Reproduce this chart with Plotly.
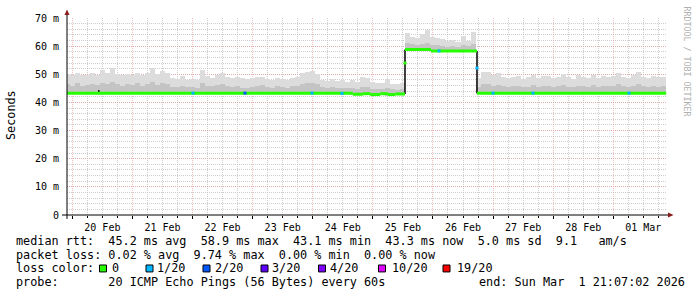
import plotly.graph_objects as go
import pandas as pd
import numpy as np

# ---------------- data ----------------
bin_start = "2026-02-19 21:00"   # smoke bins, 2 h each
smoke_max = [
    50.2, 49.8, 50.5, 49.6, 49.9, 50.3, 49.7, 51.4, 50.6, 52.3, 50.1, 49.8,
    50.2, 49.9, 50.6, 49.7, 50.3, 52.2, 50.0, 51.1, 50.4, 48.7, 48.2, 49.4,
    48.0, 48.4, 47.9, 51.4, 49.3, 48.8, 49.6, 50.3, 49.1, 48.6, 49.2, 48.7,
    48.3, 48.6, 48.9, 49.2, 48.4, 48.0, 48.7, 48.5, 47.9, 48.8, 49.0, 50.6,
    50.9, 51.0, 50.2, 48.0, 47.7, 48.2, 47.6, 47.9, 47.4, 47.8, 47.3, 49.1,
    48.8, 47.2, 46.9, 47.0, 48.5, 46.6, 46.4, 46.8, 64.8, 63.4, 63.0, 64.2,
    65.6, 63.2, 62.8, 62.4, 61.8, 62.1, 61.6, 63.6, 62.0, 64.9, 48.6, 50.9,
    50.8, 49.6, 50.3, 49.2, 48.7, 49.0, 49.5, 48.4, 48.9, 49.8, 48.6, 49.3,
    49.4, 48.8, 49.0, 50.2, 48.9, 48.5, 49.6, 49.1, 48.7, 49.9, 48.8, 49.3,
    48.9, 49.4, 50.6, 49.0, 48.6, 49.8, 50.9, 49.2, 48.7, 49.5, 48.9, 49.2,
]
smoke_mid = [
    46.5, 46.0, 46.8, 45.9, 46.3, 46.6, 46.1, 47.0, 46.7, 47.2, 46.4, 46.0,
    46.4, 46.1, 46.9, 45.8, 46.5, 47.3, 46.2, 46.8, 46.5, 45.6, 45.4, 45.9,
    45.4, 45.6, 45.3, 46.8, 46.0, 45.7, 46.2, 46.5, 45.9, 45.6, 45.8, 45.2,
    45.3, 45.6, 45.8, 46.1, 45.5, 45.2, 45.7, 45.5, 45.1, 45.8, 46.0, 46.6,
    46.8, 47.0, 46.5, 45.4, 45.2, 45.5, 45.1, 45.3, 45.0, 45.2, 44.9, 45.6,
    45.5, 44.9, 44.7, 44.8, 45.3, 44.6, 44.5, 44.7, 61.0, 60.6, 60.4, 60.8,
    61.2, 60.5, 60.3, 60.0, 59.8, 59.9, 59.7, 60.4, 59.9, 60.8, 45.5, 46.4,
    46.6, 46.0, 46.3, 45.8, 45.5, 45.7, 46.0, 45.4, 45.6, 46.1, 45.5, 45.8,
    45.9, 45.6, 45.7, 46.3, 45.6, 45.4, 46.0, 45.7, 45.5, 46.1, 45.6, 45.8,
    45.7, 45.9, 46.4, 45.7, 45.5, 46.0, 46.6, 45.8, 45.5, 45.9, 45.6, 45.7,
]
median_start = ["2026-02-19 21:00", "2026-02-24 16:00", "2026-02-24 20:00", "2026-02-24 23:00",
                "2026-02-25 03:00", "2026-02-25 06:00", "2026-02-25 09:00", "2026-02-25 12:50",
                "2026-02-25 23:13", "2026-02-26 17:35"]
median_end = ["2026-02-24 16:00", "2026-02-24 20:00", "2026-02-24 23:00", "2026-02-25 03:00",
              "2026-02-25 06:00", "2026-02-25 09:00", "2026-02-25 12:50", "2026-02-25 23:13",
              "2026-02-26 17:35", "2026-03-01 21:07"]
median_values = [43.3, 42.9, 43.1, 42.8, 43.1, 42.8, 43.0, 58.8, 58.3, 43.3]

step_times = ["2026-02-20 10:35", "2026-02-25 12:50", "2026-02-26 17:35"]
step_from = [43.3, 43.0, 58.3]
step_to = [44.4, 58.8, 43.3]

loss_times = ["2026-02-22 00:12", "2026-02-22 20:57", "2026-02-23 23:43", "2026-02-24 11:41",
              "2026-02-25 12:50", "2026-02-26 02:24", "2026-02-26 17:35", "2026-02-27 00:00",
              "2026-02-27 15:57", "2026-03-01 06:17"]
loss_values = [43.3, 43.3, 43.3, 43.2, 54.0, 58.3, 52.2, 43.3, 43.3, 43.3]
loss_colors = ["#00b8ff", "#0059ff", "#00b8ff", "#00b8ff", "#26ff00", "#00b8ff", "#00b8ff",
               "#00b8ff", "#00b8ff", "#00b8ff"]

y_tickvals = [0, 10, 20, 30, 40, 50, 60, 70]
y_ticktext = ["0", "10 m", "20 m", "30 m", "40 m", "50 m", "60 m", "70 m"]

legend_labels = ["0", "1/20", "2/20", "3/20", "4/20", "10/20", "19/20"]
legend_colors = ["#26ff00", "#00b8ff", "#0059ff", "#5e00ff", "#7e00ff", "#dd00ff", "#ff0000"]

line_rtt = "median rtt:  45.2 ms avg  58.9 ms max  43.1 ms min  43.3 ms now  5.0 ms sd  9.1   am/s"
line_loss = "packet loss: 0.02 % avg  9.74 % max  0.00 % min  0.00 % now"
line_probe = "probe:       20 ICMP Echo Pings (56 Bytes) every 60s"
line_end = "end: Sun Mar  1 21:07:02 2026"

# ---------------- geometry helpers ----------------
W, H = 697, 297
L, R, T, B = 67, 667, 16, 215
def px(x):
    return (x - L) / (R - L)
def py(y):
    return (B - y) / (B - T)

MONO = "DejaVu Sans Mono"

# ---------------- traces ----------------
centers = pd.date_range(bin_start, periods=len(smoke_max), freq="2h") + pd.Timedelta(hours=1)
ms_start = pd.to_datetime(median_start)
ms_end = pd.to_datetime(median_end)
idx = np.clip(np.searchsorted(ms_start.values, centers.values, side="right") - 1, 0, len(median_values) - 1)
base = np.array(median_values)[idx] - 0.4

fig = go.Figure()
fig.add_trace(go.Bar(x=centers, y=np.array(smoke_max) - base, base=base, width=2 * 3600 * 1000,
                     marker=dict(color="#dcdcdc", line=dict(width=0)), hoverinfo="skip"))
fig.add_trace(go.Bar(x=centers, y=np.array(smoke_mid) - base, base=base, width=2 * 3600 * 1000,
                     marker=dict(color="#c4c4c4", line=dict(width=0)), hoverinfo="skip"))

gx, gy = [], []
for s, e, v in zip(ms_start, ms_end, median_values):
    gx += [s, e, None]
    gy += [v, v, None]
bx, by = [], []
for t, a, b in zip(pd.to_datetime(step_times), step_from, step_to):
    bx += [t, t, None]
    by += [a, b, None]
fig.add_trace(go.Scatter(x=bx, y=by, mode="lines", line=dict(color="#111111", width=1.6),
                         hoverinfo="skip"))
fig.add_trace(go.Scatter(x=gx, y=gy, mode="lines", line=dict(color="#26ff00", width=3),
                         hoverinfo="skip"))
fig.add_trace(go.Scatter(x=pd.to_datetime(loss_times), y=loss_values, mode="markers",
                         marker=dict(symbol="square", size=3, color=loss_colors, line=dict(width=0)),
                         hoverinfo="skip"))

MAJ = "rgba(235,150,150,0.6)"
MIN = "rgba(190,190,190,0.75)"

fig.update_layout(
    width=W, height=H,
    margin=dict(l=L, r=W - R, t=T, b=H - B),
    paper_bgcolor="white", plot_bgcolor="white",
    showlegend=False, barmode="overlay", bargap=0,
    xaxis=dict(type="date", range=["2026-02-19 21:53", "2026-03-01 21:27"],
               tickmode="linear", tick0="2026-02-20", dtick=86400000,
               tickformat="%d %b", ticklabelmode="period",
               showgrid=True, gridcolor=MAJ, griddash="1px,1px", gridwidth=1,
               ticks="outside", ticklen=3, tickcolor="#000",
               minor=dict(dtick=6 * 3600 * 1000, showgrid=True, gridcolor=MIN, griddash="1px,1px",
                          ticks="outside", ticklen=2, tickcolor="#000"),
               showline=False, zeroline=False,
               tickfont=dict(family=MONO, size=10, color="#000")),
    yaxis=dict(range=[0, 70], tickmode="array", tickvals=y_tickvals, ticktext=y_ticktext,
               showgrid=True, gridcolor=MAJ, griddash="1px,1px", gridwidth=1,
               minor=dict(dtick=2, showgrid=True, gridcolor=MIN, griddash="1px,1px"),
               showline=False, zeroline=False, ticks="", ticklabelstandoff=7,
               tickfont=dict(family=MONO, size=10, color="#000")),
)

shapes = []
# axes
shapes.append(dict(type="line", xref="paper", yref="paper", x0=px(62), x1=px(669), y0=py(215), y1=py(215),
                   line=dict(color="#000", width=1)))
shapes.append(dict(type="line", xref="paper", yref="paper", x0=px(67), x1=px(67), y0=py(219), y1=py(12),
                   line=dict(color="#000", width=1)))
# arrows
shapes.append(dict(type="path", xref="paper", yref="paper",
                   path=f"M {px(64.5)} {py(13)} L {px(69.5)} {py(13)} L {px(67)} {py(7.5)} Z",
                   fillcolor="#8b1a1a", line=dict(width=0)))
shapes.append(dict(type="path", xref="paper", yref="paper",
                   path=f"M {px(668)} {py(212.5)} L {px(668)} {py(217.5)} L {px(673.5)} {py(215)} Z",
                   fillcolor="#8b1a1a", line=dict(width=0)))

annotations = []
def text(x, y, s, size=11.8, color="#000", angle=0, anchor="left", family=MONO):
    annotations.append(dict(xref="paper", yref="paper", x=px(x), y=py(y), text=s, showarrow=False,
                            xanchor=anchor, yanchor="middle", textangle=angle, borderpad=0,
                            font=dict(family=family, size=size, color=color)))

text(15, 241, line_rtt.replace(" ", "&nbsp;"))
text(15, 255, line_loss.replace(" ", "&nbsp;"))
text(15, 269, "loss color:")
box_x = [99.5, 146, 203, 261, 318.5, 378.5, 443]
lab_x = [110.5, 156, 213.5, 271, 328.5, 391, 455.5]
for bxp, lxp, lab, col in zip(box_x, lab_x, legend_labels, legend_colors):
    shapes.append(dict(type="rect", xref="paper", yref="paper", x0=px(bxp), x1=px(bxp + 7),
                       y0=py(272.5), y1=py(265.5), fillcolor=col, line=dict(color="#000", width=1)))
    text(lxp, 269, lab)
text(15, 283, line_probe.replace(" ", "&nbsp;"))
text(478, 283, line_end.replace(" ", "&nbsp;"))

text(11, 114, "Seconds", angle=-90, anchor="center")
text(687, 60, "RRDTOOL / TOBI OETIKER", size=8.3, color="#b0b0b0", angle=90, anchor="center")

fig.update_layout(shapes=shapes, annotations=annotations)
fig.write_html("out.html")
